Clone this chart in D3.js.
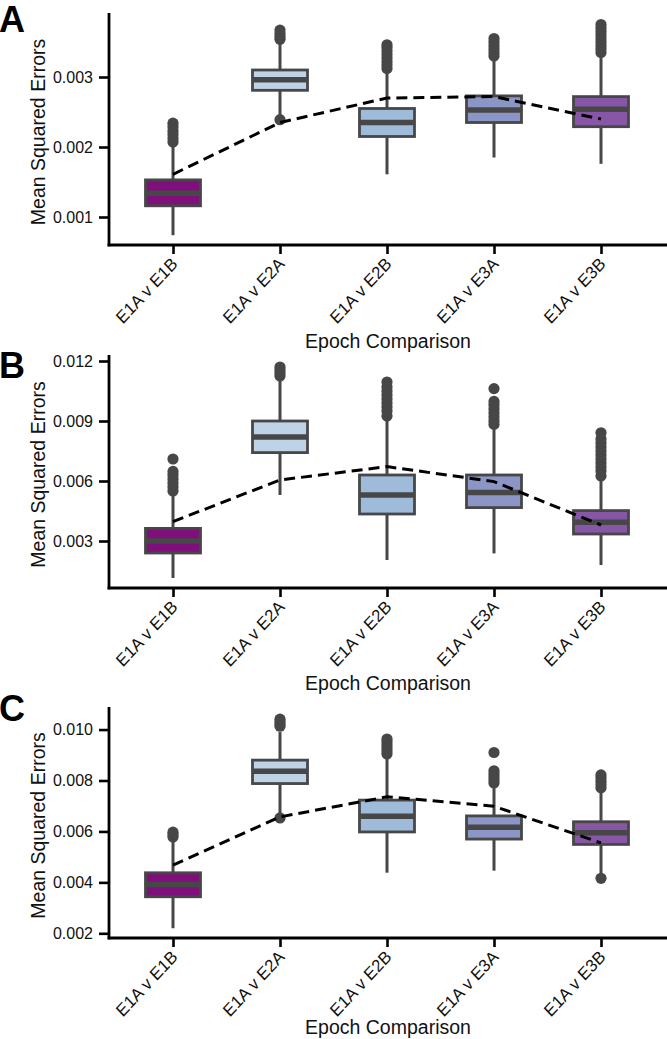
<!DOCTYPE html>
<html>
<head>
<meta charset="utf-8">
<script src="https://cdn.jsdelivr.net/npm/d3@7/dist/d3.min.js"></script>
<style>
  html, body { margin: 0; padding: 0; background: #fff; }
  svg { display: block; font-family: "Liberation Sans", Arial, Helvetica, sans-serif; }
</style>
</head>
<body>
<svg id="chart" width="667" height="1039"></svg>
<script>
// ---------- data ----------
const categories = ["E1A v E1B", "E1A v E2A", "E1A v E2B", "E1A v E3A", "E1A v E3B"];
const boxColors = ["#7f107b", "#bfd3e6", "#9ebcda", "#8c96c6", "#8856a7"];
const panelLabels = ["A", "B", "C"];
const xTitle = "Epoch Comparison";
const yTitle = "Mean Squared Errors";

// Panel A
const yTicksA = [0.001, 0.002, 0.003];
const q1A = [0.00116, 0.00281, 0.00215, 0.00235, 0.00229];
const medA = [0.00134, 0.00296, 0.00235, 0.00253, 0.00254];
const q3A = [0.00153, 0.00310, 0.00255, 0.00273, 0.00272];
const whiskLoA = [0.00074, 0.00245, 0.00161, 0.00185, 0.00176];
const whiskHiA = [0.00200, 0.00350, 0.00306, 0.00324, 0.00330];
const outA = [
  [0.00207, 0.00212, 0.00218, 0.00223, 0.00229, 0.00234],
  [0.00239, 0.00354, 0.00358, 0.00362, 0.00367],
  [0.00312, 0.00317, 0.00322, 0.00327, 0.00332, 0.00337, 0.00342, 0.00346],
  [0.00330, 0.00335, 0.00340, 0.00345, 0.00350, 0.00355],
  [0.00335, 0.00340, 0.00345, 0.00350, 0.00355, 0.00360, 0.00365, 0.00370, 0.00375]
];
const trendA = [0.00161, 0.00235, 0.00270, 0.00272, 0.00240];

// Panel B
const yTicksB = [0.003, 0.006, 0.009, 0.012];
const q1B = [0.00240, 0.00742, 0.00435, 0.00467, 0.00335];
const medB = [0.00300, 0.00820, 0.00530, 0.00542, 0.00394];
const q3B = [0.00363, 0.00900, 0.00630, 0.00630, 0.00452];
const whiskLoB = [0.00115, 0.00530, 0.00205, 0.00238, 0.00180];
const whiskHiB = [0.00530, 0.01100, 0.00900, 0.00860, 0.00600];
const outB = [
  [0.0055, 0.0057, 0.0059, 0.0061, 0.0063, 0.00648, 0.0071],
  [0.01125, 0.0114, 0.01155, 0.0117],
  [0.00925, 0.0095, 0.0097, 0.0099, 0.0101, 0.0103, 0.0105, 0.0107, 0.01095],
  [0.00883, 0.0090, 0.0092, 0.0094, 0.0096, 0.0098, 0.00998, 0.01062],
  [0.00625, 0.0065, 0.0067, 0.0069, 0.0071, 0.0073, 0.0075, 0.0077, 0.0079, 0.0081, 0.00841]
];
const trendB = [0.00397, 0.00605, 0.00672, 0.00597, 0.00380];

// Panel C
const yTicksC = [0.002, 0.004, 0.006, 0.008, 0.010];
const q1C = [0.003435, 0.00788, 0.00598, 0.00570, 0.00549];
const medC = [0.00392, 0.00836, 0.00660, 0.00616, 0.00595];
const q3C = [0.004376, 0.00880, 0.00723, 0.00661, 0.00638];
const whiskLoC = [0.00220, 0.00660, 0.00438, 0.00446, 0.00416];
const whiskHiC = [0.00560, 0.00990, 0.00890, 0.00770, 0.00760];
const outC = [
  [0.00578, 0.00588, 0.00597],
  [0.00653, 0.01013, 0.01022, 0.01032, 0.01041],
  [0.00904, 0.00916, 0.00928, 0.00940, 0.00952, 0.00963],
  [0.00790, 0.00802, 0.00814, 0.00826, 0.00838, 0.00910],
  [0.00416, 0.00771, 0.00784, 0.00797, 0.00810, 0.00822]
];
const trendC = [0.00468, 0.00657, 0.00736, 0.00699, 0.00555];

// ---------- layout ----------
const panels = [
  { label: panelLabels[0], top: 13, bottom: 245, domain: [0.0006, 0.0039143], ticks: yTicksA,
    q1: q1A, med: medA, q3: q3A, lo: whiskLoA, hi: whiskHiA, out: outA, trend: trendA, letterY: 32, titleOff: 103 },
  { label: panelLabels[1], top: 355, bottom: 588, domain: [0.00065, 0.0123], ticks: yTicksB,
    q1: q1B, med: medB, q3: q3B, lo: whiskLoB, hi: whiskHiB, out: outB, trend: trendB, letterY: 378, titleOff: 102 },
  { label: panelLabels[2], top: 707, bottom: 938, domain: [0.001816, 0.010886], ticks: yTicksC,
    q1: q1C, med: medC, q3: q3C, lo: whiskLoC, hi: whiskHiC, out: outC, trend: trendC, letterY: 721, titleOff: 96 }
];

const axisX = 109, rightEdge = 667;
const boxW = 55;
const gray = "#474747";
const x = d3.scalePoint().domain(categories).range([173, 601]);

const svg = d3.select("#chart");

panels.forEach(p => {
  const y = d3.scaleLinear().domain(p.domain).range([p.bottom, p.top]);
  const g = svg.append("g");

  // panel letter
  g.append("text").attr("x", -1).attr("y", p.letterY)
    .attr("font-size", 36).attr("font-weight", "bold").attr("fill", "#000").text(p.label);

  // y axis
  const ya = g.append("g").attr("transform", `translate(${axisX},0)`)
    .call(d3.axisLeft(y).tickValues(p.ticks).tickFormat(d3.format(".3f")).tickSize(10).tickPadding(6).tickSizeOuter(0));
  ya.select(".domain").remove();
  ya.selectAll(".tick line").attr("stroke", "#000").attr("stroke-width", 2.6);
  ya.selectAll(".tick text").attr("font-size", 16).attr("fill", "#111")
    .attr("font-family", "Liberation Sans, Arial, sans-serif");
  g.append("line").attr("x1", axisX).attr("x2", axisX).attr("y1", p.top).attr("y2", p.bottom + 1.3)
    .attr("stroke", "#000").attr("stroke-width", 2.8);

  // x axis
  const xa = g.append("g").attr("transform", `translate(0,${p.bottom})`)
    .call(d3.axisBottom(x).tickSize(9).tickSizeOuter(0));
  xa.select(".domain").remove();
  xa.selectAll(".tick line").attr("stroke", "#000").attr("stroke-width", 2.6);
  xa.selectAll(".tick text")
    .attr("font-size", 16.5).attr("fill", "#111")
    .attr("text-anchor", "end")
    .attr("dy", null).attr("y", null)
    .attr("transform", "translate(5,20) scale(1,1.07) rotate(-45)");
  g.append("line").attr("x1", axisX - 1.4).attr("x2", rightEdge).attr("y1", p.bottom).attr("y2", p.bottom)
    .attr("stroke", "#000").attr("stroke-width", 2.8);

  // axis titles
  g.append("text").attr("x", 388).attr("y", p.bottom + p.titleOff).attr("text-anchor", "middle")
    .attr("font-size", 19.5).attr("fill", "#111").text(xTitle);
  g.append("text").attr("transform", `translate(45,${(p.top + p.bottom) / 2 + 3}) rotate(-90)`)
    .attr("text-anchor", "middle").attr("font-size", 19.5).attr("fill", "#111").text(yTitle);

  // boxes
  const boxes = g.selectAll(".box").data(categories).join("g").attr("class", "box");
  boxes.append("line")
    .attr("x1", d => x(d)).attr("x2", d => x(d))
    .attr("y1", (d, i) => y(p.lo[i])).attr("y2", (d, i) => y(p.hi[i]))
    .attr("stroke", gray).attr("stroke-width", 3);
  boxes.append("rect")
    .attr("x", d => x(d) - boxW / 2).attr("width", boxW)
    .attr("y", (d, i) => y(p.q3[i])).attr("height", (d, i) => y(p.q1[i]) - y(p.q3[i]))
    .attr("fill", (d, i) => boxColors[i]).attr("stroke", gray).attr("stroke-width", 2.8);
  boxes.append("line")
    .attr("x1", d => x(d) - boxW / 2).attr("x2", d => x(d) + boxW / 2)
    .attr("y1", (d, i) => y(p.med[i])).attr("y2", (d, i) => y(p.med[i]))
    .attr("stroke", gray).attr("stroke-width", 5.5);
  boxes.each(function (d, i) {
    d3.select(this).selectAll("circle").data(p.out[i]).join("circle")
      .attr("cx", x(d)).attr("cy", v => y(v)).attr("r", 5.6).attr("fill", gray);
  });

  // trend line
  g.append("path")
    .datum(p.trend)
    .attr("d", d3.line().x((v, i) => x(categories[i])).y(v => y(v)))
    .attr("fill", "none").attr("stroke", "#000").attr("stroke-width", 3)
    .attr("stroke-dasharray", "11,6");
});
</script>
</body>
</html>
